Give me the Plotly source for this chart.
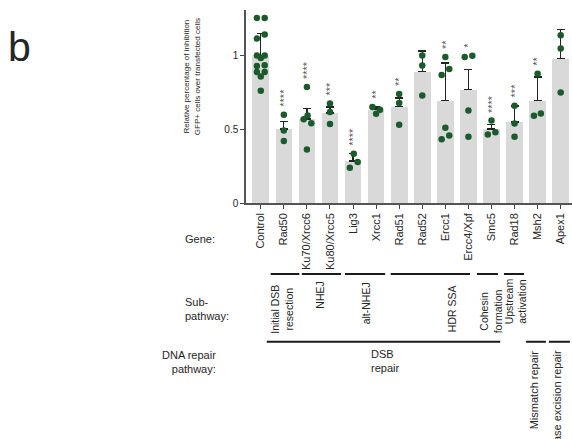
import plotly.graph_objects as go

# ---------------- data ----------------
genes = ["Control", "Rad50", "Ku70/Xrcc6", "Ku80/Xrcc5", "Lig3", "Xrcc1", "Rad51",
         "Rad52", "Ercc1", "Ercc4/Xpf", "Smc5", "Rad18", "Msh2", "Apex1"]
means = [1.00, 0.503, 0.571, 0.610, 0.286, 0.633, 0.653, 0.891, 0.694, 0.769,
         0.503, 0.549, 0.694, 0.980]
errors = [0.15, 0.05, 0.069, 0.041, 0.049, 0.018, 0.059, 0.14, 0.256, 0.136,
          0.032, 0.11, 0.161, 0.20]
significance = ["", "****", "****", "***", "****", "**", "**", "", "**", "*",
                "****", "***", "**", ""]
dot_values = [
    [1.256, 1.256, 1.143, 1.116, 1.002, 1.002, 0.984, 0.935, 0.93, 0.889, 0.889, 0.859, 0.762],
    [0.599, 0.492, 0.420],
    [0.787, 0.594, 0.569, 0.542, 0.363],
    [0.676, 0.617, 0.537],
    [0.335, 0.279, 0.240],
    [0.651, 0.633, 0.605],
    [0.739, 0.678, 0.531],
    [1.002, 0.934, 0.730],
    [0.991, 0.909, 0.868, 0.510, 0.458, 0.433],
    [0.991, 1.000, 0.628, 0.449],
    [0.560, 0.481, 0.465],
    [0.660, 0.540, 0.449],
    [0.878, 0.608, 0.592],
    [1.138, 1.048, 0.750],
]
sub_pathways = [  # label, first gene, last gene
    ("Initial DSB<br>resection", "Rad50", "Rad50"),
    ("NHEJ", "Ku70/Xrcc6", "Ku80/Xrcc5"),
    ("alt-NHEJ", "Lig3", "Xrcc1"),
    ("HDR SSA", "Rad51", "Ercc4/Xpf"),
    ("Cohesin<br>formation", "Smc5", "Smc5"),
    ("Upstream<br>activation", "Rad18", "Rad18"),
]
repair_pathways = [
    ("DSB<br>repair", "Rad50", "Rad18"),
    ("Mismatch repair", "Msh2", "Msh2"),
    ("Base excision repair", "Apex1", "Apex1"),
]
y_ticks = [0, 0.5, 1]
y_tick_labels = ["0", "0.5", "1"]

# ---------------- layout helpers (positions / styles) ----------------
dot_jitter = [
    [-0.17, 0.17, 0.17, -0.17, -0.17, 0.17, 0, 0.17, -0.17, -0.17, 0.17, 0, 0],
    [0, 0, 0],
    [0, 0.03, -0.14, 0.19, 0],
    [0, 0, 0],
    [0.03, 0.2, -0.14],
    [-0.16, 0.17, 0],
    [0, 0, 0],
    [0, 0, 0],
    [0, 0.17, -0.16, 0, 0.17, -0.16],
    [-0.16, 0.17, 0, 0],
    [0, 0.17, -0.16],
    [0, 0, 0],
    [0, 0.14, -0.16],
    [0, 0, 0],
]
FONT = "Liberation Sans, Arial, Helvetica, sans-serif"
TXT = "#262626"
idx = {g: i for i, g in enumerate(genes)}
xs = list(range(len(genes)))

fig = go.Figure()
fig.add_trace(go.Bar(
    x=xs, y=means, width=0.72, marker=dict(color="#d9d9da", line=dict(width=0)),
    error_y=dict(type="data", symmetric=False, array=errors,
                 arrayminus=[0] * len(errors), color="#222222", thickness=1.3, width=4),
    showlegend=False, hoverinfo="skip"))

px_, py_ = [], []
for i, (vals, jit) in enumerate(zip(dot_values, dot_jitter)):
    for v, j in zip(vals, jit):
        px_.append(i + j)
        py_.append(v)
fig.add_trace(go.Scatter(x=px_, y=py_, mode="markers",
                         marker=dict(color="#1b5a2b", size=6.5, line=dict(width=0)),
                         showlegend=False, hoverinfo="skip"))

annotations = []
shapes = []
# significance stars
for i, s in enumerate(significance):
    if not s:
        continue
    top = max(max(dot_values[i]), means[i] + errors[i])
    annotations.append(dict(x=i, y=top + 0.04, xref="x", yref="y", text=s,
                            textangle=-90, showarrow=False, xanchor="center",
                            yanchor="bottom", font=dict(family=FONT, size=11, color="#555555")))

# geometry: paper y coordinates of bracket rows
SUB_Y = -0.368
REP_Y = -0.719
sub_extent = {"Initial DSB<br>resection": (-0.57, 0.67), "NHEJ": (-0.22, 0.48),
              "alt-NHEJ": (-0.35, 0.39), "HDR SSA": (-0.37, 0.07),
              "Cohesin<br>formation": (-0.63, 0.28), "Upstream<br>activation": (-0.46, 0.41)}
sub_text = {"Initial DSB<br>resection": (-0.055, -0.55), "NHEJ": (0.07, -0.48),
            "alt-NHEJ": (0.06, -0.52), "HDR SSA": (0.79, -0.55),
            "Cohesin<br>formation": (-0.01, -0.56), "Upstream<br>activation": (0.06, -0.51)}
for lab, a, b in sub_pathways:
    ea, eb = sub_extent[lab]
    shapes.append(dict(type="line", xref="x", yref="paper", x0=idx[a] + ea, x1=idx[b] + eb,
                       y0=SUB_Y, y1=SUB_Y, line=dict(color="#1a1a1a", width=2)))
    dx, ty = sub_text[lab]
    xc = (idx[a] + idx[b]) / 2 + dx
    annotations.append(dict(x=xc, y=ty, xref="x", yref="paper", text=lab, textangle=-90,
                            showarrow=False, xanchor="center", yanchor="middle",
                            font=dict(family=FONT, size=10.5, color=TXT)))

rep_extent = {"DSB<br>repair": (-0.74, -0.62), "Mismatch repair": (-0.5, 0.36),
              "Base excision repair": (-0.51, 0.4)}
for lab, a, b in repair_pathways:
    ea, eb = rep_extent[lab]
    shapes.append(dict(type="line", xref="x", yref="paper", x0=idx[a] + ea, x1=idx[b] + eb,
                       y0=REP_Y, y1=REP_Y, line=dict(color="#1a1a1a", width=2)))
    if lab.startswith("DSB"):
        annotations.append(dict(x=4.69, y=-0.821, xref="x", yref="paper", text=lab,
                                showarrow=False, xanchor="left", yanchor="middle", align="left",
                                font=dict(family=FONT, size=11, color=TXT)))
    else:
        annotations.append(dict(x=idx[a] - 0.12, y=-0.751, xref="x", yref="paper", text=lab,
                                textangle=-90, showarrow=False, xanchor="center", yanchor="top",
                                font=dict(family=FONT, size=11, color=TXT)))

# row labels on the left
annotations += [
    dict(x=-0.193, y=-0.1865, xref="paper", yref="paper", text="Gene:", showarrow=False,
         xanchor="left", yanchor="middle", font=dict(family=FONT, size=11, color=TXT)),
    dict(x=-0.193, y=-0.547, xref="paper", yref="paper", text="Sub-<br>pathway:", showarrow=False,
         xanchor="left", yanchor="middle", align="left", font=dict(family=FONT, size=11, color=TXT)),
    dict(x=-0.086, y=-0.826, xref="paper", yref="paper", text="DNA repair<br>pathway:",
         showarrow=False, xanchor="right", yanchor="middle", align="right",
         font=dict(family=FONT, size=11, color=TXT)),
    dict(x=-0.165, y=0.653, xref="paper", yref="paper",
         text="Relative percentage of inhibition<br>GFP+ cells over transfected cells",
         textangle=-90, showarrow=False, xanchor="center", yanchor="middle",
         font=dict(family=FONT, size=8, color=TXT)),
    dict(x=-0.735, y=0.81, xref="paper", yref="paper", text="b", showarrow=False,
         xanchor="left", yanchor="middle", font=dict(family=FONT, size=41, color=TXT)),
]

fig.update_layout(
    width=572, height=439,
    margin=dict(l=246, r=0, t=10, b=236),
    plot_bgcolor="white", paper_bgcolor="white",
    bargap=0, showlegend=False, hovermode=False,
    annotations=annotations, shapes=shapes,
    font=dict(family=FONT, color=TXT),
    xaxis=dict(range=[-0.64, 13.49], tickmode="array", tickvals=xs, ticktext=genes,
               tickangle=-90, ticks="outside", ticklen=4, tickcolor="#444444",
               showline=True, linecolor="#555555", linewidth=1.5, showgrid=False,
               zeroline=False, tickfont=dict(family=FONT, size=11, color=TXT)),
    yaxis=dict(range=[0, 1.31], tickmode="array", tickvals=y_ticks, ticktext=y_tick_labels,
               ticks="outside", ticklen=4, tickcolor="#444444", showline=True,
               linecolor="#555555", linewidth=1.5, showgrid=False, zeroline=False,
               tickfont=dict(family=FONT, size=10, color=TXT)),
)

fig.write_html("out.html", config={"displayModeBar": False},
               post_script="document.body.style.margin='0';document.body.style.overflow='hidden';")
